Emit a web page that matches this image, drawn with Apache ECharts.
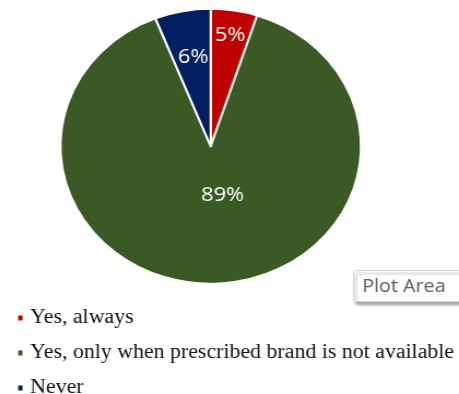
<!DOCTYPE html>
<html>
<head>
<meta charset="utf-8">
<script src="https://cdn.jsdelivr.net/npm/echarts@6/dist/echarts.min.js"></script>
<style>
  html, body { margin: 0; padding: 0; background: #fff; overflow: hidden; }
  #wrap { width: 459px; height: 394px; overflow: hidden; }
  /* the chart is drawn slightly narrower and stretched to fill the width */
  #chart { width: 420px; height: 394px; transform: scaleX(1.0929); transform-origin: 0 0; }
</style>
</head>
<body>
<div id="wrap"><div id="chart"></div></div>
<script>
// Responses to "generic substitution" question
const categories = ['Yes, always', 'Yes, only when prescribed brand is not available', 'Never'];
const shares = [5, 89, 6];
const sliceColors = ['#C00000', '#3A5925', '#002060'];

// small nudges for the percentage labels (x, y in px)
const labelNudges = [[6.5, -40], [8.6, -22.8], [-2.5, -18.5]];

const chart = echarts.init(document.getElementById('chart'), null, { renderer: 'canvas' });

chart.setOption({
  animation: false,
  color: sliceColors,
  legend: {
    orient: 'vertical',
    left: 14.6,
    top: 308,
    height: 130,
    padding: 0,
    icon: 'rect',
    itemWidth: 6,
    itemHeight: 7,
    itemGap: 15,
    textStyle: {
      fontFamily: '"Liberation Serif", "Times New Roman", serif',
      fontSize: 20,
      lineHeight: 20,
      color: '#111',
      padding: [0, 0, 0, 1]
    },
    data: categories
  },
  series: [{
    type: 'pie',
    center: [192.8, 146.25],
    radius: [0, 137.5],
    startAngle: 90,
    clockwise: true,
    avoidLabelOverlap: false,
    itemStyle: { borderColor: '#fff', borderWidth: 2 },
    label: {
      show: true,
      position: 'inside',
      formatter: '{c}%',
      color: '#fff',
      fontFamily: '"Open Sans", sans-serif',
      fontSize: 20
    },
    labelLine: { show: false },
    labelLayout: function (p) {
      const n = labelNudges[p.dataIndex];
      return { dx: n[0], dy: n[1] };
    },
    data: categories.map((name, i) => ({ name: name, value: shares[i] }))
  }],
  graphic: [{
    type: 'group',
    left: 323,
    top: 270,
    children: [{
      type: 'rect',
      shape: { x: 0, y: 0, width: 100, height: 31, r: 2 },
      style: {
        fill: '#fff',
        stroke: '#d6d6d6',
        lineWidth: 1,
        shadowColor: 'rgba(0,0,0,0.35)',
        shadowBlur: 3,
        shadowOffsetX: 2,
        shadowOffsetY: 3
      }
    }, {
      type: 'text',
      x: 8,
      y: 16,
      style: {
        text: 'Plot Area',
        fill: '#5a5a5a',
        fontFamily: '"Open Sans", sans-serif',
        fontSize: 18,
        verticalAlign: 'middle'
      }
    }]
  }]
});
</script>
</body>
</html>
